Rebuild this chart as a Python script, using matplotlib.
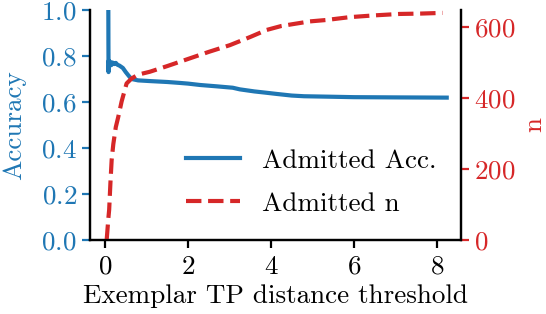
import matplotlib
matplotlib.use('Agg')
import matplotlib.pyplot as plt

plt.rcParams['font.family'] = 'serif'
plt.rcParams['font.serif'] = ['cmr10']
plt.rcParams['mathtext.fontset'] = 'cm'
plt.rcParams['axes.unicode_minus'] = False
plt.rcParams['axes.formatter.use_mathtext'] = True
plt.rcParams['font.size'] = 19.5

# threshold values and admitted accuracy
acc_x = [0.08, 0.082, 0.085, 0.09, 0.1, 0.12, 0.15, 0.18, 0.22, 0.26, 0.3, 0.35, 0.43,
         0.5, 0.58, 0.64, 0.8, 1.08, 1.5, 1.8, 2.0, 2.29, 2.7, 3.08, 3.25, 3.6, 3.9,
         4.14, 4.5, 4.8, 5.42, 6.0, 7.0, 8.24]
acc = [1.0, 0.86, 0.73, 0.78, 0.765, 0.775, 0.76, 0.772, 0.765, 0.77, 0.762, 0.758, 0.748,
       0.73, 0.712, 0.700, 0.694, 0.691, 0.687, 0.683, 0.680, 0.674, 0.668, 0.662, 0.655,
       0.646, 0.640, 0.635, 0.628, 0.625, 0.623, 0.621, 0.620, 0.619]

# threshold values and admitted count
n_x = [0.04, 0.06, 0.08, 0.1, 0.13, 0.16, 0.2, 0.26, 0.32, 0.4, 0.52, 0.64, 0.8, 1.08,
       1.5, 2.05, 2.5, 3.01, 3.5, 3.9, 4.25, 4.62, 4.94, 5.34, 5.9, 6.5, 7.1, 7.6, 8.14]
n = [0, 30, 60, 85, 160, 225, 270, 318, 347, 390, 441, 455, 466, 474,
     490, 512, 530, 549, 572, 592, 603, 610, 616, 620, 628, 633, 637, 638, 640]

acc_color = '#1f77b4'
n_color = '#d62728'

fig, ax = plt.subplots(figsize=(5.46, 3.14), dpi=100)
fig.subplots_adjust(left=0.165, right=0.844, bottom=0.236, top=0.968)
ax2 = ax.twinx()

l1, = ax.plot(acc_x, acc, color=acc_color, lw=3, label='Admitted Acc.')
l2, = ax2.plot(n_x, n, color=n_color, lw=3, ls='--', label='Admitted n')

ax.set_ylim(0, 1.0)
ax2.set_ylim(0, 648)
ax.set_xlim(-0.36, 8.58)
ax.set_xticks([0, 2, 4, 6, 8])
ax.set_yticks([0, 0.2, 0.4, 0.6, 0.8, 1.0])
ax2.set_yticks([0, 200, 400, 600])

ax.set_xlabel('Exemplar TP distance threshold', labelpad=4)
ax.set_ylabel('Accuracy', color=acc_color, labelpad=11)
ax2.set_ylabel('n', color=n_color, labelpad=5)

for a in (ax, ax2):
    a.spines['top'].set_visible(False)
    for s in a.spines.values():
        s.set_linewidth(1.6)
    a.tick_params(width=1.6, length=6)
ax.tick_params(axis='x', pad=5)
ax.tick_params(axis='y', colors=acc_color)
ax2.tick_params(axis='y', colors=n_color)

ax2.legend([l1, l2], ['Admitted Acc.', 'Admitted n'], loc='lower right',
           frameon=False, handlelength=2.0, labelspacing=0.7,
           bbox_to_anchor=(1.0, 0.0))

plt.savefig('out.png', dpi=100)
